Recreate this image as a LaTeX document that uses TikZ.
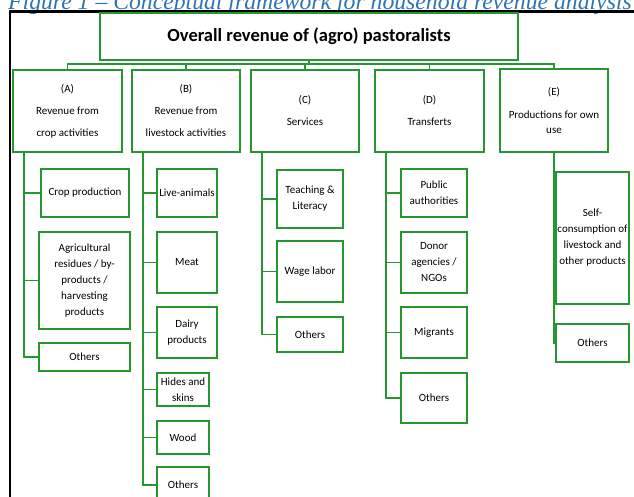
\documentclass[tikz,border=0pt]{standalone}
\usepackage{fontspec}
\setmainfont{Carlito}
\newfontfamily\capfont{Liberation Serif}
\usepackage{xcolor}
\definecolor{boxgreen}{RGB}{38,150,48}
\definecolor{capblue}{RGB}{46,116,181}

\begin{document}
\begin{tikzpicture}[x=1pt,y=-1pt]
\tikzset{every node/.style={inner sep=0pt,align=center}}
\tikzset{box/.style={draw=boxgreen,line width=1.9pt,fill=white}}
\tikzset{topbox/.style={box,font=\fontsize{18.5}{20}\selectfont\bfseries}}
\tikzset{headbox/.style={box,font=\fontsize{11}{22}\selectfont}}
\tikzset{leafbox/.style={box,font=\fontsize{11}{16}\selectfont}}
\tikzset{link/.style={draw=boxgreen,line width=1.9pt}}
\tikzset{frame/.style={draw=black,line width=2.4pt}}
\tikzset{caption/.style={text=capblue,font=\capfont\itshape\fontsize{23.7}{26}\selectfont}}

\useasboundingbox (0,0) rectangle (634,496);
\clip (0,0) rectangle (634,496);

% caption, cut by the page
\node[caption,anchor=base west] (cap) at (8,9) {Figure 1 – Conceptual framework for household revenue analysis};
\draw[frame] (10,500) -- (10,11.5) -- (640,11.5);

% root and the five headings
\node[topbox,minimum width=418pt,minimum height=47pt] (top) at (309,36.5) {Overall revenue of (agro) pastoralists};

\node[headbox,minimum width=109pt,minimum height=82pt] (A) at (67.5,111) {(A)\\Revenue from\\crop activities};
\node[headbox,minimum width=108pt,minimum height=82pt] (B) at (186,111) {(B)\\Revenue from\\livestock activities};
\node[headbox,minimum width=108pt,minimum height=82pt] (C) at (305,111) {(C)\\Services};
\node[headbox,minimum width=109pt,minimum height=82pt] (D) at (429.5,111) {(D)\\Transferts};
\node[headbox,font=\fontsize{11}{15}\selectfont,minimum width=108pt,minimum height=83pt] (E) at (554,110.5) {(E)\\[8pt]Productions for own\\use};

% (A)
\node[leafbox,minimum width=88pt,minimum height=48pt] (a1) at (85,193) {Crop production};
\node[leafbox,minimum width=91pt,minimum height=97pt] (a2) at (84.5,280.5) {Agricultural\\residues / by-\\products /\\harvesting\\products};
\node[leafbox,minimum width=91pt,minimum height=28pt] (a3) at (84.5,357) {Others};

% (B)
\node[leafbox,minimum width=60pt,minimum height=48pt] (b1) at (187,193) {Live-animals};
\node[leafbox,minimum width=60pt,minimum height=61pt] (b2) at (187,262.5) {Meat};
\node[leafbox,minimum width=60pt,minimum height=51pt] (b3) at (187,332.5) {Dairy\\products};
\node[leafbox,minimum width=52pt,minimum height=33pt] (b4) at (183,389.5) {Hides and\\skins};
\node[leafbox,minimum width=52pt,minimum height=33pt] (b5) at (183,437.5) {Wood};
\node[leafbox,minimum width=52pt,minimum height=36pt] (b6) at (183,485) {Others};

% (C)
\node[leafbox,minimum width=66pt,minimum height=58pt] (c1) at (310,199) {Teaching \&\\Literacy};
\node[leafbox,minimum width=66pt,minimum height=61pt] (c2) at (310,271.5) {Wage labor};
\node[leafbox,minimum width=66pt,minimum height=35pt] (c3) at (310,334.5) {Others};

% (D)
\node[leafbox,minimum width=66pt,minimum height=48pt] (d1) at (434,193) {Public\\authorities};
\node[leafbox,minimum width=66pt,minimum height=61pt] (d2) at (434,262.5) {Donor\\agencies /\\NGOs};
\node[leafbox,minimum width=66pt,minimum height=51pt] (d3) at (434,332.5) {Migrants};
\node[leafbox,minimum width=66pt,minimum height=50pt] (d4) at (434,398) {Others};

% (E)
\node[leafbox,minimum width=73pt,minimum height=132pt] (e1) at (592.5,238) {Self-\\consumption of\\livestock and\\other products};
\node[leafbox,minimum width=73pt,minimum height=38pt] (e2) at (592.5,343) {Others};

% connectors
\path (top.south) ++(0,3) coordinate (bus);
\draw[link] (top.south) -- (bus);
\draw[link] (A.north) |- (bus) -| (E.north);
\foreach \h in {B,C,D}
  \draw[link] (\h.north) -- (\h.north |- bus);

\foreach \h/\kids in {A/{a1,a2,a3},B/{b1,b2,b3,b4,b5,b6},C/{c1,c2,c3},D/{d1,d2,d3,d4}}{
  \coordinate (spine) at ([xshift=11.5pt]\h.south west);
  \foreach \k in \kids
    \draw[link] (spine) |- (\k.west);
}
\draw[link] (E.south) |- (e2.west);
\end{tikzpicture}
\end{document}
